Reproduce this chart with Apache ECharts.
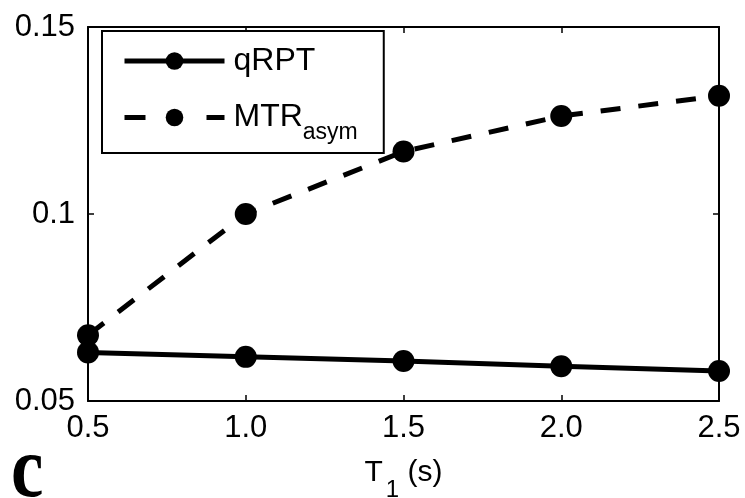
<!DOCTYPE html>
<html>
<head>
<meta charset="utf-8">
<script src="https://cdn.jsdelivr.net/npm/echarts@6/dist/echarts.min.js"></script>
<style>
  html, body { margin: 0; padding: 0; background: #fff; }
  #chart { width: 745px; height: 498px; }
</style>
</head>
<body>
<div id="chart"></div>
<script>
// T1 relaxation times (s) on the x axis
const t1Values = [0.5, 1.0, 1.5, 2.0, 2.5];
// qRPT and MTR_asym estimates at each T1
const qrptValues = [0.0630, 0.0618, 0.0607, 0.0593, 0.0580];
const mtrAsymValues = [0.0676, 0.1000, 0.1167, 0.1262, 0.1316];
// axis ticks
const xTicks = [0.5, 1.0, 1.5, 2.0, 2.5];
const yTicks = [0.05, 0.1, 0.15];

const FONT = '"Liberation Sans", Arial, Helvetica, sans-serif';

const chart = echarts.init(document.getElementById('chart'), null, { renderer: 'canvas' });

const axisLine = { show: true, lineStyle: { color: '#000', width: 2 } };
const axisTick = { show: true, inside: true, length: 6, lineStyle: { color: '#000', width: 1.5 } };

const xMin = xTicks[0], xMax = xTicks[xTicks.length - 1];
const xStep = xTicks[1] - xTicks[0];
const yMin = yTicks[0], yMax = yTicks[yTicks.length - 1];
const yStep = 0.05;

chart.setOption({
  backgroundColor: '#fff',
  animation: false,
  textStyle: { fontFamily: FONT },
  grid: { left: 88, right: 26, top: 27, bottom: 97, outerBoundsMode: 'none', containLabel: false },
  legend: {
    orient: 'vertical',
    left: 102,
    top: 31,
    padding: [14, 26, 9, 20],
    itemGap: 14,
    itemWidth: 100,
    itemHeight: 22,
    backgroundColor: '#fff',
    borderColor: '#000',
    borderWidth: 2,
    borderRadius: 0,
    lineStyle: { width: 5 },
    data: [
      { name: 'qRPT' },
      { name: 'MTRasym', lineStyle: { width: 5, type: [21, 61] } }
    ],
    formatter: name => name === 'MTRasym' ? '{m|MTR}{s|asym}' : '{m|qRPT}',
    textStyle: {
      color: '#000',
      fontFamily: FONT,
      padding: [0, 0, 0, 4],
      rich: {
        m: { fontSize: 32, fontFamily: FONT, color: '#000', lineHeight: 34 },
        s: { fontSize: 23, fontFamily: FONT, color: '#000', lineHeight: 34, padding: [30, 0, 0, 0] }
      }
    }
  },
  xAxis: [
    {
      type: 'value', position: 'bottom',
      min: xMin, max: xMax, interval: xStep,
      axisLine, axisTick, splitLine: { show: false },
      axisLabel: {
        color: '#000', fontSize: 31, fontFamily: FONT, margin: 12,
        formatter: v => v.toFixed(1)
      },
      name: '{a|T}{b|1}{a| (s)}',
      nameLocation: 'middle',
      nameGap: 43,
      nameTextStyle: {
        rich: {
          a: { fontSize: 30, fontFamily: FONT, color: '#000' },
          b: { fontSize: 24, fontFamily: FONT, color: '#000', padding: [34, 0, 0, 3] }
        }
      }
    },
    {
      type: 'value', position: 'top',
      min: xMin, max: xMax, interval: xStep,
      axisLine, axisTick, axisLabel: { show: false }, splitLine: { show: false }
    }
  ],
  yAxis: [
    {
      type: 'value', position: 'left',
      min: yMin, max: yMax, interval: yStep,
      axisLine, axisTick, splitLine: { show: false },
      axisLabel: {
        color: '#000', fontSize: 31, fontFamily: FONT, margin: 13,
        formatter: v => String(+v.toFixed(2))
      }
    },
    {
      type: 'value', position: 'right',
      min: yMin, max: yMax, interval: yStep,
      axisLine, axisTick, axisLabel: { show: false }, splitLine: { show: false }
    }
  ],
  series: [
    {
      name: 'MTRasym',
      type: 'line',
      data: t1Values.map((t, i) => [t, mtrAsymValues[i]]),
      clip: false,
      symbol: 'circle',
      symbolSize: 22,
      itemStyle: { color: '#000' },
      lineStyle: { color: '#000', width: 5, type: [20, 18] },
      z: 3
    },
    {
      name: 'qRPT',
      type: 'line',
      data: t1Values.map((t, i) => [t, qrptValues[i]]),
      clip: false,
      symbol: 'circle',
      symbolSize: 22,
      itemStyle: { color: '#000' },
      lineStyle: { color: '#000', width: 5, type: 'solid' },
      z: 4
    }
  ],
  graphic: [
    {
      type: 'text',
      left: 11,
      top: 431,
      scaleX: 0.85,
      style: {
        text: 'c',
        font: 'bold 86px "Liberation Serif", "Times New Roman", serif',
        fill: '#000'
      }
    }
  ]
});
</script>
</body>
</html>
